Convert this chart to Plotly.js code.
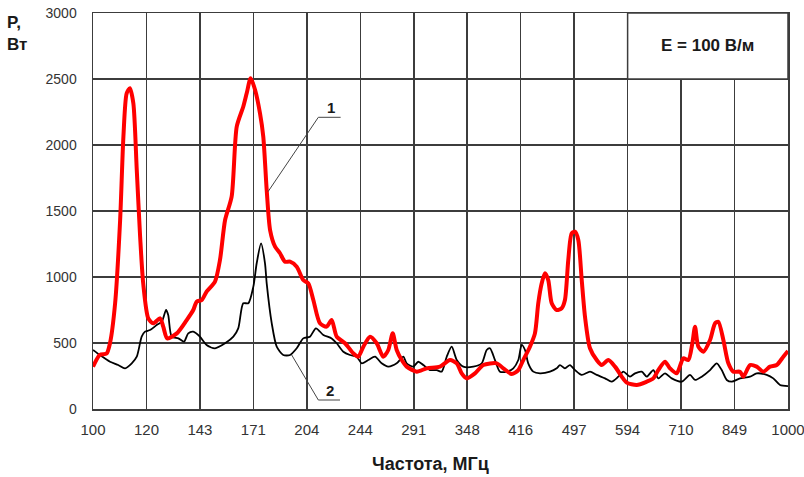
<!DOCTYPE html>
<html>
<head>
<meta charset="utf-8">
<script src="https://cdn.plot.ly/plotly-3.0.1.min.js"></script>
<style>
html,body{margin:0;padding:0;background:#fff;}
#chart{width:804px;height:477px;}
</style>
</head>
<body>
<div id="chart"></div>
<script>
// Curve 1 (red): frequency, MHz
const freq1 = [100, 102.3, 104.6, 105.8, 107.6, 109.4, 110.6, 111.8, 113.0, 114.3, 115.6, 116.9, 118.1, 120.1, 122.1, 124.9, 126.2, 127.9, 132.0, 136.4, 139.4, 141.0, 143.4, 145.7, 149.8, 152.3, 154.9, 158.3, 161.0, 164.5, 166.4, 168.6, 171.1, 173.9, 175.8, 177.8, 179.8, 182.8, 185.8, 188.9, 192.1, 196.4, 200.7, 204.1, 207.5, 212.1, 216.9, 220.5, 224.2, 230.5, 236.9, 240.8, 244.9, 250.4, 256.0, 261.6, 266.0, 269.9, 273.5, 278.1, 282.7, 292.3, 302.1, 315.7, 326.3, 333.7, 339.2, 344.9, 354.5, 364.4, 381.0, 389.4, 400.4, 409.2, 416.0, 425.3, 432.4, 437.2, 442.2, 447.0, 451.9, 457.1, 464.7, 472.4, 477.6, 482.9, 488.4, 493.8, 499.2, 504.9, 510.4, 518.9, 530.6, 539.4, 551.4, 563.8, 576.4, 586.0, 605.8, 626.2, 640.0, 650.7, 665.3, 676.4, 691.7, 707.0, 718.8, 728.4, 734.9, 743.0, 755.4, 772.4, 785.3, 793.9, 807.2, 820.7, 834.4, 853.1, 862.5, 881.8, 901.6, 921.5, 942.2, 963.3, 984.6, 1000];
// Curve 1 (red): power, W
const power1 = [320, 410, 420, 500, 800, 1430, 2063, 2392, 2430, 2316, 1811, 1305, 952, 687, 649, 687, 624, 535, 573, 674, 750, 813, 826, 889, 965, 1129, 1432, 1609, 2139, 2290, 2392, 2505, 2417, 2240, 2063, 1659, 1356, 1230, 1180, 1116, 1116, 1078, 977, 952, 826, 649, 624, 674, 548, 498, 422, 396, 472, 548, 498, 396, 447, 573, 447, 371, 321, 283, 308, 321, 371, 346, 270, 232, 270, 333, 346, 308, 265, 295, 371, 472, 573, 801, 952, 1028, 977, 801, 750, 763, 826, 1129, 1331, 1343, 1280, 977, 699, 460, 371, 333, 371, 321, 245, 200, 182, 207, 232, 295, 358, 308, 270, 384, 371, 498, 624, 472, 434, 523, 649, 661, 523, 346, 283, 283, 245, 333, 321, 283, 321, 333, 396, 440];

// Curve 2 (black): frequency, MHz
const freq2 = [100, 102.3, 105.8, 108.7, 111.2, 113.7, 115.6, 117.5, 118.8, 120.8, 123.5, 125.6, 127.4, 128.3, 129.8, 132.7, 135.2, 137.1, 139.4, 142.5, 145.7, 149.8, 154.9, 159.2, 161.8, 164.5, 167.3, 170.1, 172.0, 174.5, 176.8, 177.8, 180.8, 183.8, 187.8, 192.1, 196.4, 200.7, 205.2, 209.3, 214.5, 220.5, 224.2, 229.2, 234.3, 239.6, 243.6, 248.9, 254.6, 260.2, 266.0, 273.5, 279.6, 282.7, 288.9, 293.8, 298.7, 305.4, 312.3, 317.5, 322.8, 328.2, 333.7, 341.0, 352.5, 362.5, 368.5, 372.6, 378.8, 385.1, 393.8, 402.5, 409.2, 413.8, 418.4, 422.9, 430.0, 439.7, 454.5, 464.7, 469.8, 477.6, 485.6, 493.8, 504.9, 518.9, 530.6, 545.4, 557.6, 570.0, 579.5, 592.5, 602.4, 615.9, 626.2, 640.0, 650.7, 665.3, 680.3, 703.2, 722.8, 734.9, 751.4, 772.4, 789.7, 802.9, 816.3, 830.0, 853.1, 881.8, 901.6, 931.9, 952.5, 973.9, 1000];
// Curve 2 (black): power, W
const power2 = [447, 409, 358, 333, 308, 346, 396, 548, 586, 598, 636, 661, 750, 712, 548, 535, 510, 573, 586, 548, 485, 460, 498, 548, 611, 801, 801, 927, 1104, 1255, 1104, 952, 649, 472, 409, 409, 460, 535, 548, 611, 561, 535, 498, 434, 409, 396, 346, 371, 396, 346, 321, 346, 396, 346, 321, 358, 333, 295, 295, 283, 396, 472, 371, 321, 321, 346, 447, 460, 371, 283, 283, 308, 371, 485, 447, 346, 283, 270, 283, 308, 333, 308, 333, 295, 258, 283, 258, 232, 207, 245, 283, 245, 270, 283, 245, 295, 232, 270, 232, 207, 258, 220, 245, 295, 346, 295, 220, 207, 232, 245, 270, 258, 232, 182, 174];

// Axis tick labels (evenly spaced on a logarithmic scale)
const xTickLabels = ["100", "120", "143", "171", "204", "244", "291", "348", "416", "497", "594", "710", "849", "1000"];
const yTickVals = [0, 500, 1000, 1500, 2000, 2500, 3000];

const nInt = xTickLabels.length - 1;
const xTickVals = xTickLabels.map((_, k) => 100 * Math.pow(10, k / nInt) * (k === nInt ? 0.99999 : 1));

const gridCol = '#3c3c3c';
const traces = [
  {x: freq2, y: power2, type: 'scatter', mode: 'lines',
   line: {color: '#000000', width: 1.8, shape: 'spline', smoothing: 0.7}, hoverinfo: 'skip'},
  {x: freq1, y: power1, type: 'scatter', mode: 'lines',
   line: {color: '#ff0000', width: 4, shape: 'spline', smoothing: 0.7}, hoverinfo: 'skip'}
];

const layout = {
  width: 804, height: 477,
  margin: {l: 93, r: 16, t: 13, b: 68, pad: 0},
  paper_bgcolor: '#ffffff', plot_bgcolor: '#ffffff',
  showlegend: false,
  font: {family: 'Liberation Sans, Arial, sans-serif', color: '#333333'},
  xaxis: {
    type: 'log', range: [2, 3],
    tickvals: xTickVals, ticktext: xTickLabels,
    tickfont: {family: 'Liberation Sans Narrow, Arial Narrow, Liberation Sans, sans-serif', size: 15, color: '#333333'},
    ticklabeloverflow: 'allow',
    showgrid: true, gridcolor: gridCol, gridwidth: 1.5,
    showline: true, linecolor: gridCol, linewidth: 1.5, mirror: true,
    ticks: '', ticklabelstandoff: 6, zeroline: false
  },
  yaxis: {
    range: [0, 3000], tickvals: yTickVals,
    tickfont: {family: 'Liberation Sans, Arial, sans-serif', size: 14, color: '#333333'},
    showgrid: true, gridcolor: gridCol, gridwidth: 1.5,
    showline: true, linecolor: gridCol, linewidth: 1.5, mirror: true,
    ticks: '', ticklabelstandoff: 12, zeroline: false
  },
  shapes: [
    {type: 'rect', xref: 'paper', yref: 'paper', x0: 10/13, x1: 1, y0: 5/6, y1: 1,
     fillcolor: '#ffffff', line: {color: gridCol, width: 1.5}, layer: 'above'},
    {type: 'path', xref: 'paper', yref: 'paper', path: 'M 0.2518 0.5487 L 0.3242 0.7366 L 0.3563 0.7366',
     line: {color: '#444444', width: 1}, layer: 'above'},
    {type: 'path', xref: 'paper', yref: 'paper', path: 'M 0.2859 0.1364 L 0.3242 0.0227 L 0.3554 0.0227',
     line: {color: '#444444', width: 1}, layer: 'above'}
  ],
  annotations: [
    {text: '<b>E = 100 В/м</b>', xref: 'paper', yref: 'paper', x: 0.8845, y: 0.9167,
     xanchor: 'center', yanchor: 'middle', showarrow: false,
     font: {size: 17, color: '#1a1a1a', family: 'Liberation Sans, Arial, sans-serif'}},
    {text: '<b>1</b>', xref: 'paper', yref: 'paper', x: 0.3424, y: 0.7626,
     xanchor: 'center', yanchor: 'middle', showarrow: false,
     font: {size: 15, color: '#1a1a1a'}},
    {text: '<b>2</b>', xref: 'paper', yref: 'paper', x: 0.3410, y: 0.0455,
     xanchor: 'center', yanchor: 'middle', showarrow: false,
     font: {size: 15, color: '#1a1a1a'}},
    {text: '<b>P,<br>Вт</b>', xref: 'paper', yref: 'paper', x: -0.126, y: 0.949,
     xanchor: 'left', yanchor: 'middle', align: 'left', showarrow: false,
     font: {size: 17, color: '#1a1a1a'}},
    {text: '<b>Частота, МГц</b>', xref: 'paper', yref: 'paper', x: 0.485, y: -0.139,
     xanchor: 'center', yanchor: 'middle', showarrow: false,
     font: {size: 18, color: '#1a1a1a'}}
  ]
};

Plotly.newPlot('chart', traces, layout, {staticPlot: true, displayModeBar: false});
</script>
</body>
</html>
